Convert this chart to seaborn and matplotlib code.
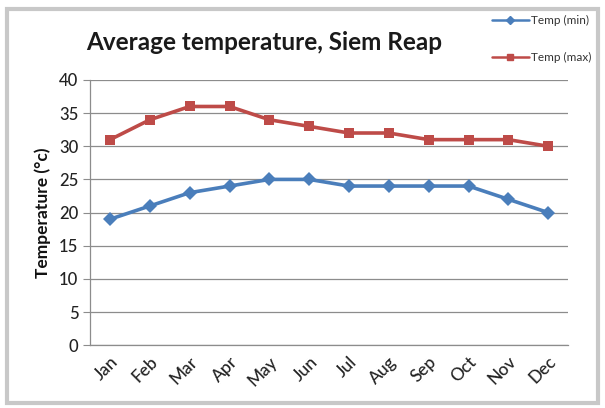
import numpy as np
import pandas as pd
import seaborn as sns
import matplotlib.pyplot as plt
from matplotlib.patches import Rectangle

months = ['Jan', 'Feb', 'Mar', 'Apr', 'May', 'Jun', 'Jul', 'Aug', 'Sep', 'Oct', 'Nov', 'Dec']
temp_min = [19, 21, 23, 24, 25, 25, 24, 24, 24, 24, 22, 20]
temp_max = [31, 34, 36, 36, 34, 33, 32, 32, 31, 31, 31, 30]
series = ['Temp (min)', 'Temp (max)']

df = pd.DataFrame({
    'month': months * 2,
    'temp': temp_min + temp_max,
    'series': [series[0]] * 12 + [series[1]] * 12,
})
df['pos'] = list(range(12)) * 2

sns.set_style('white')
plt.rcParams['font.family'] = ['Lato', 'DejaVu Sans']

fig = plt.figure(figsize=(6.05, 4.08), dpi=100)
ax = fig.add_axes([0.149, 0.154, 0.79, 0.65])

palette = {series[0]: '#4a7ebb', series[1]: '#be4b48'}
sns.lineplot(data=df, x='pos', y='temp', hue='series', style='series',
             markers={series[0]: 'D', series[1]: 's'}, dashes=False,
             palette=palette, linewidth=2.6, markersize=7, markeredgewidth=0,
             ax=ax, legend=False)

ax.set_xlim(-0.5, 11.5)
ax.set_ylim(0, 40)
ax.set_yticks(range(0, 41, 5))
ax.yaxis.grid(True, color='#8c8c8c', linewidth=0.9)
ax.set_axisbelow(True)
ax.set_xticks(range(12))
ax.set_xticklabels(months, rotation=45, ha='right', rotation_mode='anchor',
                   fontsize=12.5, color='#222222')
ax.set_xticks(np.arange(-0.5, 12, 1), minor=True)
ax.tick_params(axis='x', which='major', length=0, pad=6)
ax.tick_params(axis='x', which='minor', length=5, color='#8c8c8c', width=0.9)
ax.tick_params(axis='y', length=5, color='#8c8c8c', labelsize=12, labelcolor='#222222', left=True)
for lbl in ax.get_xticklabels() + ax.get_yticklabels():
    lbl.set_fontweight('medium')
ax.set_xlabel('')
ax.set_ylabel('Temperature (°c)', fontsize=12.5, fontweight='bold', color='#111111', labelpad=6)
for s in ['top', 'right']:
    ax.spines[s].set_visible(False)
for s in ['left', 'bottom']:
    ax.spines[s].set_color('#8c8c8c')
    ax.spines[s].set_linewidth(0.9)

fig.text(0.437, 0.895, 'Average temperature, Siem Reap', ha='center', va='center',
         fontsize=17.5, fontweight='bold', color='#1a1a1a')

handles = [plt.Line2D([], [], color=palette[series[0]], marker='D', markersize=4, linewidth=1.8),
           plt.Line2D([], [], color=palette[series[1]], marker='s', markersize=4, linewidth=1.8)]
fig.legend(handles, series, loc='upper left', bbox_to_anchor=(0.795, 0.99), frameon=False,
           fontsize=8.5, handlelength=3.2, handletextpad=0.1, labelspacing=2.2, labelcolor='#333333')

fig.patches.append(Rectangle((0.012, 0.012), 0.976, 0.966, transform=fig.transFigure,
                             fill=False, edgecolor='#c8c8c8', linewidth=3))

fig.savefig('out.png', dpi=100)
